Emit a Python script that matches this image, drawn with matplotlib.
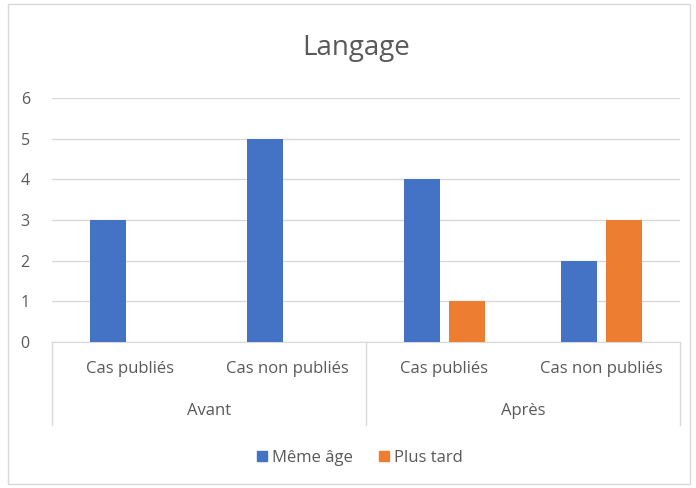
import matplotlib
matplotlib.use("Agg")
import matplotlib.pyplot as plt
from matplotlib.patches import Patch, Rectangle
from matplotlib.lines import Line2D
import numpy as np

# Data
groups = ["Avant", "Après"]
categories = ["Cas publiés", "Cas non publiés", "Cas publiés", "Cas non publiés"]
series_names = ["Même âge", "Plus tard"]
meme_age = [3, 5, 4, 2]
plus_tard = [0, 0, 1, 3]

blue = "#4472C4"
orange = "#ED7D31"
text_c = "#595959"
grid_c = "#D9D9D9"

plt.rcParams['font.family'] = ['Open Sans', 'DejaVu Sans']

W, H = 696, 488
fig = plt.figure(figsize=(W / 100, H / 100), dpi=100)
# chart border
fig.patches.append(Rectangle((8 / W, 4 / H), (690 - 8) / W, (H - 8) / H,
                             transform=fig.transFigure, fill=False,
                             edgecolor=grid_c, linewidth=1))

x0, x1 = 52, 680
yb, yt = 342, 98
ax = fig.add_axes([x0 / W, 1 - yb / H, (x1 - x0) / W, (yb - yt) / H])

x = np.arange(len(categories))
w = 0.23
off = 0.145
ax.bar(x - off, meme_age, w, color=blue, zorder=3)
ax.bar(x + off, plus_tard, w, color=orange, zorder=3)

ax.set_xlim(-0.5, len(categories) - 0.5)
ax.set_ylim(0, 6)
ax.set_yticks(range(0, 7))
ax.yaxis.grid(True, color=grid_c, linewidth=1)
ax.set_axisbelow(True)
for s in ["left", "right", "top"]:
    ax.spines[s].set_visible(False)
ax.spines["bottom"].set_color(grid_c)
ax.tick_params(axis="y", length=0, pad=16, labelcolor=text_c, labelsize=11.5)
ax.tick_params(axis="x", length=0, pad=14, labelcolor=text_c, labelsize=12)
ax.set_xticks(x)
ax.set_xticklabels(categories)

# second level labels and separators
tr = ax.get_xaxis_transform()
sep_bottom = -(425 - yb) / (yb - yt)
for xs in [-0.5, 1.5, 3.5]:
    ax.add_line(Line2D([xs, xs], [0, sep_bottom], transform=tr, color=grid_c,
                       linewidth=1, clip_on=False))
for i, g in enumerate(groups):
    ax.text(2 * i + 0.5, -(411 - yb) / (yb - yt), g, transform=tr, ha="center",
            va="center", color=text_c, fontsize=12)

fig.text(356 / W, 1 - 48 / H, "Langage", fontsize=20, color=text_c,
         ha="center", va="center")

handles = [Patch(color=blue, label=series_names[0]),
           Patch(color=orange, label=series_names[1])]
fig.legend(handles=handles, loc="center", bbox_to_anchor=(360 / W, 1 - 458 / H),
           ncol=2, frameon=False, fontsize=12, handlelength=0.6, handleheight=0.6,
           handletextpad=0.3, columnspacing=1.6, labelcolor=text_c)

fig.savefig("out.png", dpi=100)
